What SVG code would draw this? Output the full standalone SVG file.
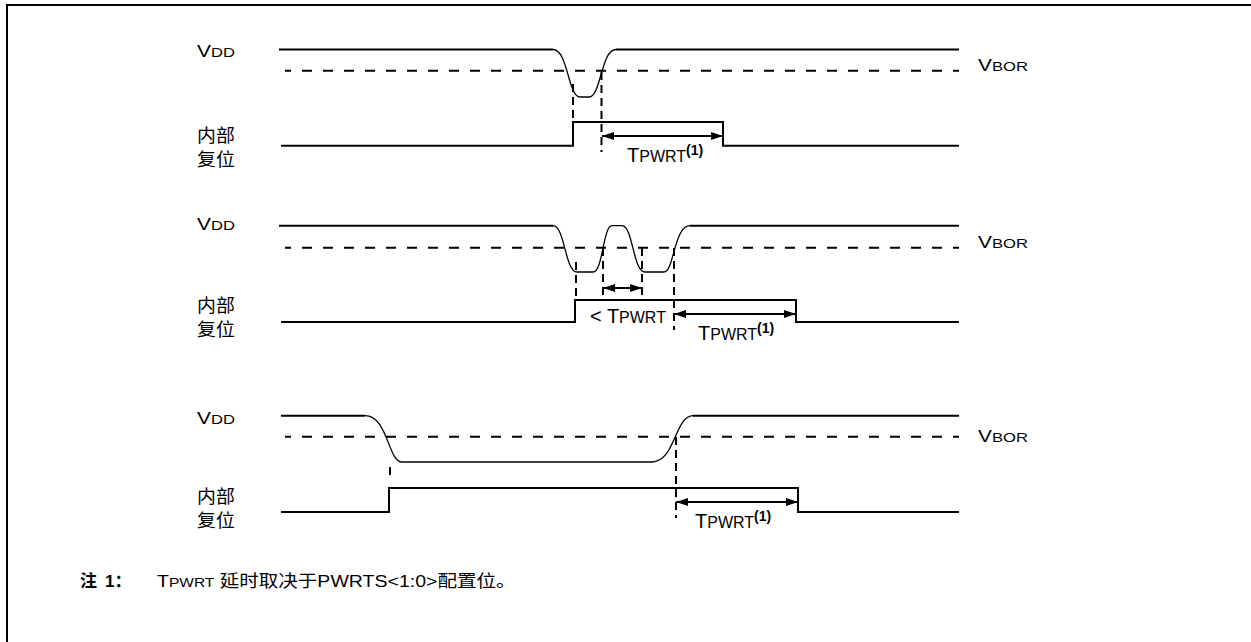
<svg xmlns="http://www.w3.org/2000/svg" width="1251" height="642" viewBox="0 0 1251 642">
<defs>
<style>
.t{font-family:"Liberation Sans","Noto Sans CJK SC",sans-serif;fill:#000}
.lb{font-size:17px}
.ls{font-size:13.5px}
.tb{font-size:20px}
.ts{font-size:16px}
.sup{font-size:14px;font-weight:bold}
.cjk{font-family:"Liberation Sans","Noto Sans CJK SC",sans-serif;font-size:18px;fill:#000}
.sig{fill:none;stroke:#000;stroke-width:2}
.curve{fill:none;stroke:#000;stroke-width:1.3}
.hd{fill:none;stroke:#000;stroke-width:2;stroke-dasharray:10 11;stroke-dashoffset:4}
.vd{fill:none;stroke:#000;stroke-width:2;stroke-dasharray:8 5}
.arr{fill:none;stroke:#000;stroke-width:2;marker-start:url(#ah);marker-end:url(#ah)}
</style>
<marker id="ah" viewBox="0 0 12 8" refX="12" refY="4" markerWidth="12" markerHeight="8" markerUnits="userSpaceOnUse" orient="auto-start-reverse">
<path d="M0,0 L12,4 L0,8 Z" fill="#000"/>
</marker>
</defs>
<rect x="7" y="5" width="1270" height="660" fill="none" stroke="#000" stroke-width="2"/>

<g id="panel1">
<text class="t" transform="translate(197,57) scale(1.23,1)"><tspan class="lb">V</tspan><tspan class="ls">DD</tspan></text>
<text class="t" transform="translate(978,71) scale(1.23,1)"><tspan class="lb">V</tspan><tspan class="ls">BOR</tspan></text>
<text class="cjk" transform="translate(197,142) scale(1.05,1)">内部</text>
<text class="cjk" transform="translate(197,166) scale(1.05,1)">复位</text>
<path class="sig" d="M279,49.5 H553"/>
<path class="curve" d="M553,49.5 C568,49.5 568,97 580,97 H589 C601,97 601,49.5 616,49.5"/>
<path class="sig" d="M616,49.5 H959"/>
<path class="hd" d="M285,70.7 H959"/>
<path class="sig" d="M281,145.7 H573 V122 H723 V145.7 H959"/>
<text class="t" x="627" y="162"><tspan class="tb">T</tspan><tspan class="ts">PWRT</tspan><tspan class="sup" dy="-7">(1)</tspan></text>
</g>

<g id="panel2">
<text class="t" transform="translate(197,230) scale(1.23,1)"><tspan class="lb">V</tspan><tspan class="ls">DD</tspan></text>
<text class="t" transform="translate(978,248) scale(1.23,1)"><tspan class="lb">V</tspan><tspan class="ls">BOR</tspan></text>
<text class="cjk" transform="translate(197,312) scale(1.05,1)">内部</text>
<text class="cjk" transform="translate(197,336) scale(1.05,1)">复位</text>
<path class="sig" d="M279,225.7 H553"/>
<path class="curve" d="M553,225.7 C565,225.7 565,272 577,272 H593 C603,272 603,225.7 612,225.7 H622 C633,225.7 633,272 645,272 H664 C674,272 674,225.7 690,225.7"/>
<path class="sig" d="M690,225.7 H959"/>
<path class="hd" d="M285,247.7 H959"/>
<path class="sig" d="M281,322 H575 V300 H796 V322 H959"/>
<text class="t" x="590" y="322.5"><tspan class="tb">&lt; T</tspan><tspan class="ts">PWRT</tspan></text>
<text class="t" x="698" y="340"><tspan class="tb">T</tspan><tspan class="ts">PWRT</tspan><tspan class="sup" dy="-7">(1)</tspan></text>
</g>

<g id="panel3">
<text class="t" transform="translate(197,424) scale(1.23,1)"><tspan class="lb">V</tspan><tspan class="ls">DD</tspan></text>
<text class="t" transform="translate(978,442) scale(1.23,1)"><tspan class="lb">V</tspan><tspan class="ls">BOR</tspan></text>
<text class="cjk" transform="translate(197,503) scale(1.05,1)">内部</text>
<text class="cjk" transform="translate(197,527) scale(1.05,1)">复位</text>
<path class="sig" d="M281,415.7 H365"/>
<path class="curve" d="M365,415.7 C388,415.7 388,462 402,462 H652 C675,462 675,415.7 693,415.7"/>
<path class="sig" d="M693,415.7 H959"/>
<path class="hd" d="M285,436.7 H959"/>
<path class="sig" d="M281,512 H389 V488 H798 V512 H959"/>
<text class="t" x="695" y="528"><tspan class="tb">T</tspan><tspan class="ts">PWRT</tspan><tspan class="sup" dy="-7">(1)</tspan></text>
</g>

<g id="connectors">
<path class="vd" d="M573,84 V122"/>
<path class="vd" d="M601.5,72 V152"/>
<path class="arr" d="M602,136 H723"/>
<path class="vd" d="M576,262 V300"/>
<path class="vd" d="M603,248 V300"/>
<path class="vd" d="M642,248 V300"/>
<path class="vd" d="M674,248 V330"/>
<path class="arr" d="M603,288 H642"/>
<path class="arr" d="M674,314 H796"/>
<path class="vd" d="M390,467 V478"/>
<path class="vd" d="M676,437 V518"/>
<path class="arr" d="M676,502 H798"/>
</g>

<g id="note">
<text class="t" x="80" y="587" font-size="17" font-weight="bold">注</text>
<text class="t" x="105" y="587" font-size="17" font-weight="bold">1：</text>
<text class="t" transform="translate(157,587) scale(1.15,1)"><tspan font-size="17">T</tspan><tspan font-size="13.5">PWRT</tspan><tspan font-size="17"> 延时取决于PWRTS&lt;1:0&gt;配置位。</tspan></text>
</g>
</svg>
